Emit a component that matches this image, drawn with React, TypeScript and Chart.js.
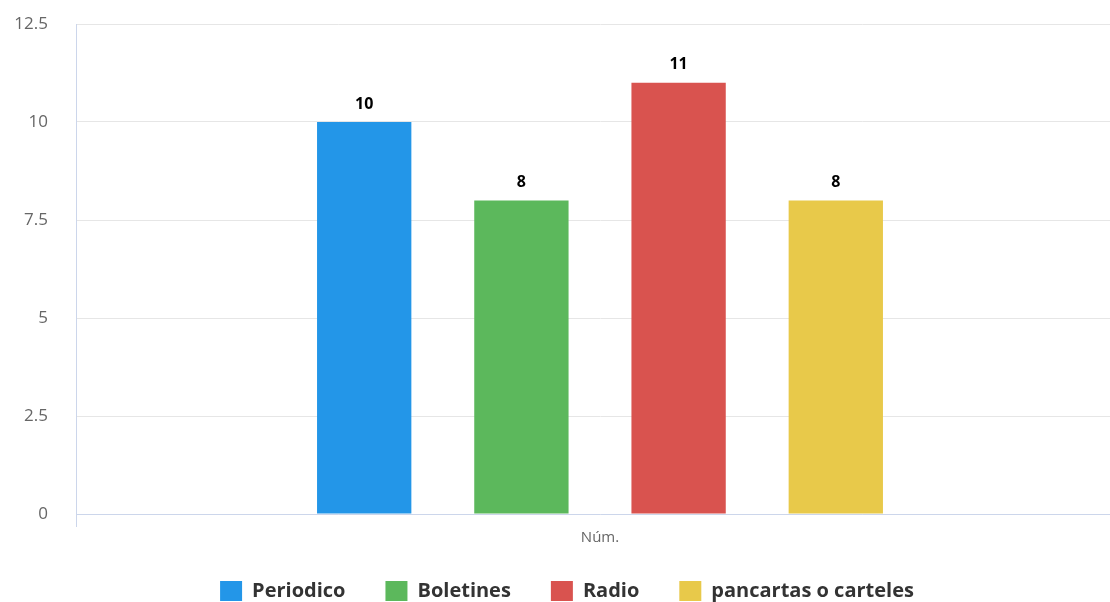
import React, { useEffect, useRef } from "react";
import { Chart, registerables } from "chart.js";

Chart.register(...registerables);

const categories = ["Núm."];
const seriesNames = ["Periodico", "Boletines", "Radio", "pancartas o carteles"];
const seriesValues = [[10], [8], [11], [8]];
const seriesColors = ["#2396e8", "#5cb85c", "#d9534f", "#e8c94a"];
const yTicks = [0, 2.5, 5, 7.5, 10, 12.5];

const valueLabels = {
  id: "valueLabels",
  afterDatasetsDraw(chart: any) {
    const ctx = chart.ctx;
    ctx.save();
    ctx.font = "bold 16px 'Open Sans', sans-serif";
    ctx.fillStyle = "#000";
    ctx.textAlign = "center";
    ctx.textBaseline = "bottom";
    chart.data.datasets.forEach((ds: any, i: number) => {
      const meta = chart.getDatasetMeta(i);
      meta.data.forEach((el: any, j: number) => {
        ctx.fillText(String(ds.data[j]), el.x, el.y - 10);
      });
    });
    ctx.restore();
  },
};

// legend items are spaced with padding 40; keep its reserved height compact
const legendFit = {
  id: "legendFit",
  beforeInit(chart: any) {
    const legend = chart.legend;
    if (!legend) return;
    const orig = legend.fit;
    legend.fit = function () {
      orig.call(this);
      this.height = 53;
    };
  },
  afterLayout(chart: any) {
    const legend = chart.legend;
    if (!legend) return;
    legend.top -= 8;
    legend.height += 8;
  },
};

export default function App() {
  const ref = useRef<HTMLCanvasElement>(null);
  useEffect(() => {
    if (!ref.current) return;
    const chart = new Chart(ref.current, {
      type: "bar",
      data: {
        labels: categories,
        datasets: seriesNames.map((name, i) => ({
          label: name,
          data: seriesValues[i],
          backgroundColor: seriesColors[i],
          borderWidth: 0,
          categoryPercentage: 0.6,
          barPercentage: 0.6,
        })),
      },
      options: {
        animation: false,
        responsive: true,
        maintainAspectRatio: false,
        layout: { padding: { left: 10, right: 0, top: 24, bottom: 0 } },
        plugins: {
          tooltip: { enabled: false },
          legend: {
            position: "bottom",
            labels: {
              boxWidth: 22,
              boxHeight: 20,
              padding: 40,
              color: "#333",
              font: { family: "'Open Sans', sans-serif", size: 20, weight: "bold" },
            },
          },
        },
        scales: {
          x: {
            grid: { display: true, drawOnChartArea: false, color: "#ccd6eb", tickLength: 13 },
            border: { color: "#ccd6eb", width: 1 },
            ticks: { color: "#666", font: { family: "'Open Sans', sans-serif", size: 15 }, padding: 2 },
          },
          y: {
            min: 0,
            max: 12.5,
            afterBuildTicks: (axis: any) => {
              axis.ticks = yTicks.map((v) => ({ value: v }));
            },
            afterFit: (scale: any) => {
              scale.width = 66;
            },
            grid: { color: "#e6e6e6", drawTicks: true, tickLength: 28, tickColor: "rgba(0,0,0,0)" },
            border: { color: "#ccd6eb", width: 1 },
            ticks: { color: "#666", font: { family: "'Open Sans', sans-serif", size: 17 }, padding: 0 },
          },
        },
      },
      plugins: [legendFit, valueLabels],
    });
    return () => chart.destroy();
  }, []);
  return (
    <div style={{ position: "fixed", left: 0, top: 0, width: 1110, height: 602, overflow: "hidden" }}>
      <div style={{ position: "absolute", left: 0, top: 0, width: 1124, height: 602 }}>
        <canvas ref={ref} />
      </div>
    </div>
  );
}
